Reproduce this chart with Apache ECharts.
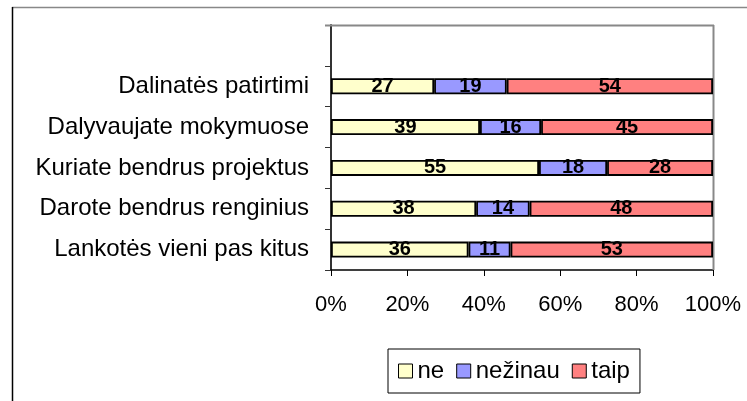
<!DOCTYPE html>
<html>
<head>
<meta charset="utf-8">
<script src="https://cdn.jsdelivr.net/npm/echarts@6/dist/echarts.min.js"></script>
<style>
html,body{margin:0;padding:0;background:#fff;}
#c{width:747px;height:401px;}
</style>
</head>
<body>
<div id="c"></div>
<script>
const categories = ['Lankotės vieni pas kitus', 'Darote bendrus renginius', 'Kuriate bendrus projektus', 'Dalyvaujate mokymuose', 'Dalinatės patirtimi', ''];
const ne = [36, 38, 55, 39, 27];
const nezinau = [11, 14, 18, 16, 19];
const taip = [53, 48, 28, 45, 54];
const seriesNames = ['ne', 'nežinau', 'taip'];
const seriesColors = ['#FFFFCC', '#9999FF', '#FF8080'];

const raw = [ne, nezinau, taip];
const totals = ne.map((v, i) => ne[i] + nezinau[i] + taip[i]);
const FONT = "'Liberation Sans', Arial, sans-serif";

const chart = echarts.init(document.getElementById('c'), null, {renderer: 'canvas'});
const series = raw.map((arr, si) => ({
  name: seriesNames[si],
  type: 'bar',
  stack: 'total',
  barWidth: 16,
  data: arr.map((v, i) => v / totals[i] * 100),
  itemStyle: {color: seriesColors[si], borderColor: '#000', borderWidth: 1.8},
  label: {
    show: true,
    position: 'inside',
    formatter: p => String(arr[p.dataIndex]),
    fontFamily: FONT,
    fontWeight: 'bold',
    fontSize: 20,
    color: '#000'
  }
}));

chart.setOption({
  animation: false,
  textStyle: {fontFamily: FONT},
  graphic: [
    {type: 'line', shape: {x1: 12, y1: 7.5, x2: 747, y2: 7.5}, style: {stroke: '#888', lineWidth: 1.5}, z: 100},
    {type: 'line', shape: {x1: 12.5, y1: 7, x2: 12.5, y2: 401}, style: {stroke: '#000', lineWidth: 1.5}, z: 100},
    {type: 'line', shape: {x1: 325, y1: 25.5, x2: 714, y2: 25.5}, style: {stroke: '#888', lineWidth: 2}, z: 1},
    {type: 'line', shape: {x1: 713.5, y1: 25, x2: 713.5, y2: 270}, style: {stroke: '#888', lineWidth: 2}, z: 1}
  ],
  grid: {
    left: 331, top: 25, right: 34, bottom: 131,
    show: false
  },
  legend: {
    left: 388, top: 349,
    data: seriesNames,
    icon: 'rect',
    itemWidth: 14, itemHeight: 14, itemGap: 12,
    padding: [10, 10],
    borderColor: '#000', borderWidth: 1,
    itemStyle: {borderColor: '#000', borderWidth: 1},
    textStyle: {fontFamily: FONT, fontSize: 24, color: '#000'}
  },
  xAxis: {
    type: 'value', min: 0, max: 100, interval: 20,
    axisLine: {show: true, lineStyle: {color: '#000', width: 1.5}},
    axisTick: {show: true, length: 6, lineStyle: {color: '#000'}},
    splitLine: {show: false},
    axisLabel: {formatter: '{value}%', fontFamily: FONT, fontSize: 22, color: '#000', margin: 24}
  },
  yAxis: {
    type: 'category',
    data: categories,
    axisLine: {show: true, lineStyle: {color: '#333', width: 2}},
    axisTick: {show: true, length: 6, lineStyle: {color: '#333'}},
    axisLabel: {fontFamily: FONT, fontSize: 24, color: '#000', margin: 22}
  },
  series: series
});
</script>
</body>
</html>
